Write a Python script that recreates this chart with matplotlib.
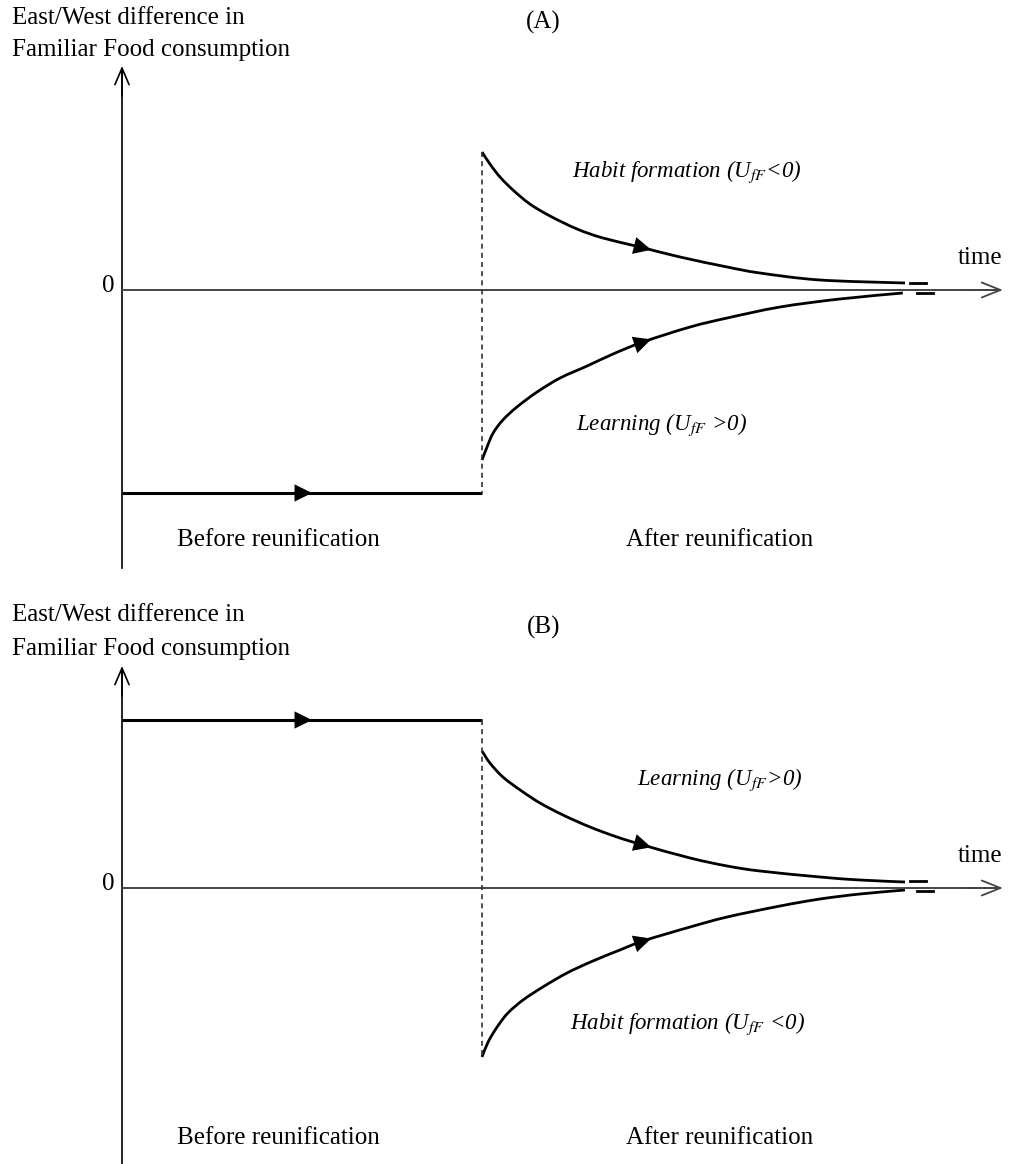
import numpy as np
import matplotlib
matplotlib.use('Agg')
import matplotlib.pyplot as plt
from matplotlib.path import Path
from matplotlib.patches import PathPatch

plt.rcParams['font.family'] = ['Liberation Serif', 'DejaVu Serif']
plt.rcParams['mathtext.fontset'] = 'stix'

t_reunif = 10.0
t_before = [0.0, 10.0]

# Panel (A)
before_A = -2.03
habit_A_t = [10.0, 10.22, 10.5, 10.86, 11.33, 11.89, 12.64, 13.36, 14.39, 15.5, 16.81, 17.72, 19.39, 21.75]
habit_A_d = [1.38, 1.26, 1.13, 1.00, 0.86, 0.74, 0.61, 0.52, 0.43, 0.33, 0.23, 0.17, 0.10, 0.07]
learn_A_t = [10.0, 10.14, 10.31, 10.58, 10.97, 11.53, 12.17, 12.92, 13.64, 14.47, 15.78, 16.81, 18.28, 19.94, 21.69]
learn_A_d = [-1.70, -1.57, -1.43, -1.30, -1.17, -1.02, -0.88, -0.76, -0.64, -0.52, -0.37, -0.28, -0.17, -0.09, -0.03]

# Panel (B)
before_B = 1.68
learn_B_t = [10.0, 10.22, 10.58, 11.06, 11.61, 12.25, 13.0, 13.75, 14.47, 15.78, 16.81, 17.72, 19.39, 20.5, 21.75]
learn_B_d = [1.37, 1.25, 1.11, 0.98, 0.85, 0.73, 0.61, 0.51, 0.43, 0.30, 0.22, 0.17, 0.11, 0.08, 0.06]
habit_B_t = [10.0, 10.17, 10.42, 10.72, 11.14, 11.69, 12.36, 13.08, 13.83, 14.47, 15.78, 16.81, 18.28, 19.39, 20.5, 21.75]
habit_B_d = [-1.69, -1.54, -1.39, -1.25, -1.12, -0.99, -0.85, -0.73, -0.62, -0.53, -0.39, -0.29, -0.18, -0.11, -0.06, -0.02]

ylabel_lines = ['East/West difference in', 'Familiar Food consumption']
habit_txt = 'Habit formation'
learn_txt = 'Learning'

W, H = 1010, 1164
X0, PX_T, PX_D = 122, 36.0, 100.0

fig = plt.figure(figsize=(W / 100, H / 100), dpi=100)


def make_panel(top_px, bot_px, zero_px):
    ax = fig.add_axes([0, 1 - bot_px / H, 1, (bot_px - top_px) / H])
    ax.set_xlim(-X0 / PX_T, (W - X0) / PX_T)
    ax.set_ylim((zero_px - bot_px) / PX_D, (zero_px - top_px) / PX_D)
    ax.axis('off')
    return ax


def curva(ax, ts, ds, lw=2.0):
    # trazo suave (Catmull-Rom) que pasa por los puntos leídos
    p = np.column_stack([ts, ds])
    n = len(p)
    verts = [p[0]]
    codes = [Path.MOVETO]
    for i in range(n - 1):
        p0 = p[i - 1] if i > 0 else p[i]
        p3 = p[i + 2] if i + 2 < n else p[i + 1]
        c1 = p[i] + (p[i + 1] - p0) / 6
        c2 = p[i + 1] - (p3 - p[i]) / 6
        verts += [c1, c2, p[i + 1]]
        codes += [Path.CURVE4] * 3
    ax.add_patch(PathPatch(Path(verts, codes), fill=False, lw=lw,
                           edgecolor='black', capstyle='butt'))


def flecha(ax, ts, ds, t_tip):
    d_tip = np.interp(t_tip, ts, ds)
    d_back = np.interp(t_tip - 0.3, ts, ds)
    ax.annotate('', xy=(t_tip, d_tip), xytext=(t_tip - 0.3, d_back),
                arrowprops=dict(arrowstyle='-|>,head_length=0.55,head_width=0.27',
                                mutation_scale=23, color='black', lw=0,
                                shrinkA=0, shrinkB=0))


def ejes(ax, y_top, y_bot, t_end):
    ax.plot([0, 0], [y_bot, y_top - 0.05], color='black', lw=1.2)
    ax.annotate('', xy=(0, y_top), xytext=(0, y_top - 0.3),
                arrowprops=dict(arrowstyle='->,head_length=0.7,head_width=0.3',
                                mutation_scale=17, color='black', lw=1.2,
                                shrinkA=0, shrinkB=0))
    ax.plot([0, t_end - 0.1], [0, 0], color='#444444', lw=1.4)
    ax.annotate('', xy=(t_end, 0), xytext=(t_end - 1, 0),
                arrowprops=dict(arrowstyle='->,head_length=0.75,head_width=0.3',
                                mutation_scale=18, color='#444444', lw=1.3,
                                shrinkA=0, shrinkB=0))
    # marcas "=" al final de las curvas
    ax.plot([21.89, 22.33], [0.07, 0.07], color='black', lw=2)
    ax.plot([22.08, 22.53], [-0.03, -0.03], color='black', lw=2)
    ax.text(23.83, 0.32, 'time', ha='center', va='center', fontsize=fs)
    ax.text(-0.2, 0.04, '0', ha='right', va='center', fontsize=fs)


fs = 18
fs_it = 16.5

# ---------- Panel A ----------
axA = make_panel(0, 582, 290)
ejes(axA, 2.24, -2.78, 24.47)
axA.plot(t_before, [before_A, before_A], color='black', lw=2.2, solid_capstyle='butt')
flecha(axA, t_before, [before_A, before_A], 5.28)
axA.plot([t_reunif, t_reunif], [habit_A_d[0], before_A], color='#333333', lw=1.2, ls=(0, (3, 2.5)))
curva(axA, habit_A_t, habit_A_d)
curva(axA, learn_A_t, learn_A_d)
flecha(axA, habit_A_t, habit_A_d, 14.7)
flecha(axA, learn_A_t, learn_A_d, 14.7)
axA.text(-3.06, 2.72, ylabel_lines[0], ha='left', va='center', fontsize=fs)
axA.text(-3.06, 2.40, ylabel_lines[1], ha='left', va='center', fontsize=fs)
axA.text(11.7, 2.68, '(A)', ha='center', va='center', fontsize=fs)
axA.text(12.5, 1.18, habit_txt + r' (U$_{fF}$<0)', ha='left', va='center', fontsize=fs_it, style='italic')
axA.text(12.6, -1.35, learn_txt + r' (U$_{fF}$ >0)', ha='left', va='center', fontsize=fs_it, style='italic')
axA.text(4.33, -2.5, 'Before reunification', ha='center', va='center', fontsize=fs)
axA.text(16.6, -2.5, 'After reunification', ha='center', va='center', fontsize=fs)

# ---------- Panel B ----------
axB = make_panel(582, 1164, 888)
ejes(axB, 2.22, -2.76, 24.47)
axB.plot(t_before, [before_B, before_B], color='black', lw=2.2, solid_capstyle='butt')
flecha(axB, t_before, [before_B, before_B], 5.28)
axB.plot([t_reunif, t_reunif], [before_B, habit_B_d[0]], color='#333333', lw=1.2, ls=(0, (3, 2.5)))
curva(axB, learn_B_t, learn_B_d)
curva(axB, habit_B_t, habit_B_d)
flecha(axB, learn_B_t, learn_B_d, 14.7)
flecha(axB, habit_B_t, habit_B_d, 14.7)
axB.text(-3.06, 2.73, ylabel_lines[0], ha='left', va='center', fontsize=fs)
axB.text(-3.06, 2.39, ylabel_lines[1], ha='left', va='center', fontsize=fs)
axB.text(11.7, 2.61, '(B)', ha='center', va='center', fontsize=fs)
axB.text(14.3, 1.08, learn_txt + r' (U$_{fF}$>0)', ha='left', va='center', fontsize=fs_it, style='italic')
axB.text(12.44, -1.36, habit_txt + r' (U$_{fF}$ <0)', ha='left', va='center', fontsize=fs_it, style='italic')
axB.text(4.33, -2.5, 'Before reunification', ha='center', va='center', fontsize=fs)
axB.text(16.6, -2.5, 'After reunification', ha='center', va='center', fontsize=fs)

fig.savefig('out.png', dpi=100)
